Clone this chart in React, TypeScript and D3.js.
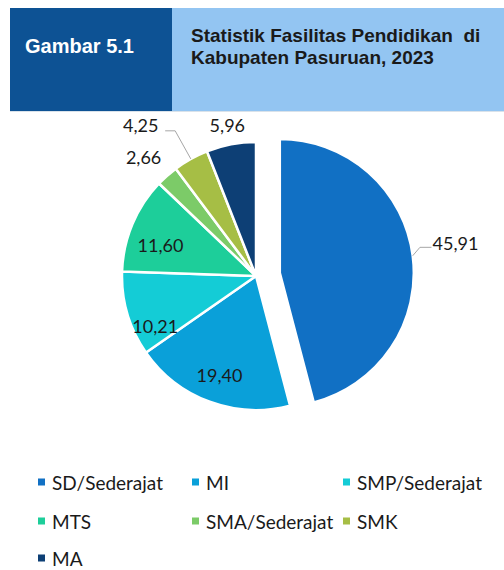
import React from "react";
import * as d3 from "d3";

const categories = ["SD/Sederajat", "MI", "SMP/Sederajat", "MTS", "SMA/Sederajat", "SMK", "MA"];
const values = [45.91, 19.4, 10.21, 11.6, 2.66, 4.25, 5.96];
const colors = ["#1170C4", "#0AA0D9", "#14CCD6", "#1DCE9A", "#7CCB68", "#A6BE45", "#0D3F75"];
const headerLabel = "Gambar 5.1";
const titleLines = ["Statistik Fasilitas Pendidikan  di", "Kabupaten Pasuruan, 2023"];

// label layout: radius factor and angular shift (degrees) per slice
const labelLayout = [
  { r: 1.33, da: -2.3 },
  { r: 0.79, da: 0 },
  { r: 0.84, da: -10 },
  { r: 0.75, da: -4.7 },
  { r: 1.22, da: -1.9 },
  { r: 1.42, da: -8.2 },
  { r: 1.15, da: 0 },
];

const W = 504;
const H = 570;
const cx = 256;
const cy = 276;
const R = 134;
const explode = 24;

const fmt = d3.formatLocale({ decimal: ",", thousands: ".", grouping: [3], currency: ["", ""] }).format(".2f");

const polar = (r: number, a: number) => [Math.sin(a) * r, -Math.cos(a) * r];

export default function App() {
  const pie = d3.pie<number>().sort(null).value((d) => d).startAngle(0).endAngle(2 * Math.PI);
  const arcs = pie(values);
  const arc = d3.arc<d3.PieArcDatum<number>>().innerRadius(0).outerRadius(R);

  const labelFont = "Lato, 'Open Sans', sans-serif";
  const headFont = "'Liberation Sans', Arial, sans-serif";

  const legendX = d3.scaleOrdinal<number, number>().domain([0, 1, 2]).range([38, 192, 343]);
  const legendY = d3.scaleOrdinal<number, number>().domain([0, 1, 2]).range([482, 521, 558]);

  return (
    <svg width={W} height={H} style={{ position: "absolute", left: 0, top: 0 }}>
      <rect x={0} y={0} width={W} height={H} fill="#ffffff" />
      {/* header */}
      <rect x={10} y={8} width={162} height={103} fill="#0D5294" />
      <rect x={172} y={8} width={W - 172} height={103} fill="#93C5F2" />
      <line x1={10} x2={W} y1={111.5} y2={111.5} stroke="#d9e2ea" strokeWidth={1} />
      <text x={25} y={53} fill="#ffffff" fontFamily={headFont} fontWeight="bold" fontSize={20}>
        {headerLabel}
      </text>
      {titleLines.map((t, i) => (
        <text key={i} x={191} y={42 + i * 22} fill="#1a1a1a" fontFamily={headFont} fontWeight="bold" fontSize={19} style={{ whiteSpace: "pre" }} xmlSpace="preserve">
          {t}
        </text>
      ))}

      {/* pie */}
      <g transform={`translate(${cx},${cy})`}>
        {arcs.map((a, i) => {
          const mid = (a.startAngle + a.endAngle) / 2;
          const [ox, oy] = i === 0 ? polar(explode, mid) : [0, 0];
          return (
            <path
              key={i}
              d={arc(a) || ""}
              transform={`translate(${ox},${oy})`}
              fill={colors[i]}
              stroke="#ffffff"
              strokeWidth={2.5}
              strokeLinejoin="round"
            />
          );
        })}
        {arcs.map((a, i) => {
          const mid = (a.startAngle + a.endAngle) / 2;
          const [ox, oy] = i === 0 ? polar(explode, mid) : [0, 0];
          const L = labelLayout[i];
          const [lx, ly] = polar(R * L.r, mid + (L.da * Math.PI) / 180);
          let leader: string | null = null;
          if (i === 0) {
            const [x0, y0] = polar(R, mid);
            const [x1, y1] = polar(R * 1.063, mid - (3 * Math.PI) / 180);
            leader = `M${x0 + ox},${y0 + oy}L${x1 + ox},${y1 + oy}L${lx + ox - 24},${y1 + oy}`;
          } else if (i === 5) {
            const [x0, y0] = polar(R, mid);
            const [x1, y1] = polar(R * 1.24, mid);
            leader = `M${x0},${y0}L${x1},${y1}L${x1 - 10},${y1}`;
          }
          return (
            <g key={`l${i}`}>
              {leader && <path d={leader} fill="none" stroke="#A6A6A6" strokeWidth={1} />}
              <text
                x={lx + ox}
                y={ly + oy}
                textAnchor="middle"
                dominantBaseline="central"
                fontFamily={labelFont}
                fontSize={18}
                fill="#1a1a1a"
              >
                {fmt(values[i])}
              </text>
            </g>
          );
        })}
      </g>

      {/* legend */}
      {categories.map((c, i) => {
        const col = i % 3;
        const row = Math.floor(i / 3);
        const x = legendX(col);
        const y = legendY(row);
        return (
          <g key={c}>
            <rect x={x} y={y - 3.5} width={7} height={7} fill={colors[i]} />
            <text x={x + 14} y={y} dominantBaseline="central" fontFamily={labelFont} fontSize={19} fill="#1a1a1a">
              {c}
            </text>
          </g>
        );
      })}
    </svg>
  );
}
